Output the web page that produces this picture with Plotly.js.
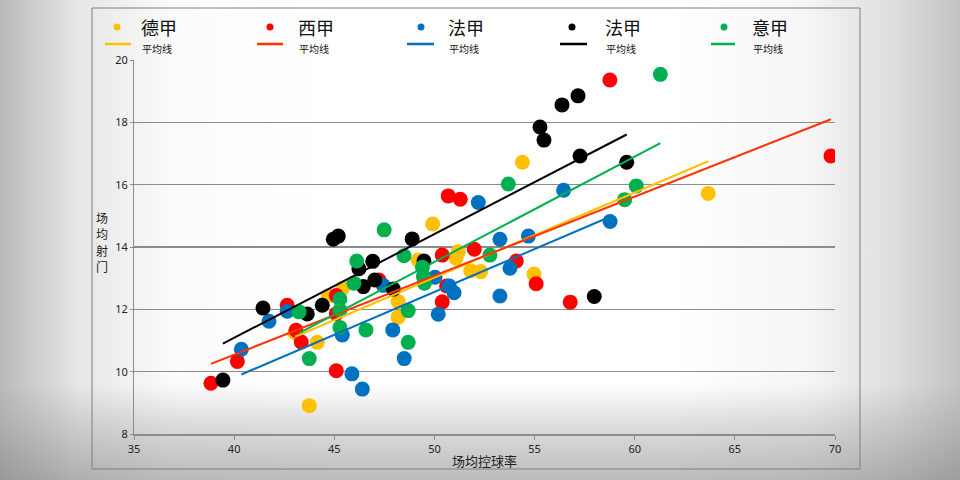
<!DOCTYPE html>
<html>
<head>
<meta charset="utf-8">
<script src="https://cdn.plot.ly/plotly-3.0.1.min.js"></script>
<style>
html,body{margin:0;padding:0;}
body{width:960px;height:480px;overflow:hidden;
background:
 linear-gradient(to bottom, rgba(255,255,255,0) 0%, rgba(255,255,255,0) 80%, rgba(150,150,150,0.3) 88%, rgba(120,120,120,0.5) 100%),
 linear-gradient(to right, #b9b9b9 0%, #e6e6e6 8%, #fbfbfb 18%, #ffffff 35%, #ffffff 70%, #f6f6f6 84%, #dedede 93%, #c2c2c2 100%);}
#chart{width:960px;height:480px;}
</style>
</head>
<body>
<div id="chart"></div>
<script>
// ---- data ----
const seriesNames = ['德甲', '西甲', '法甲', '法甲', '意甲'];
const trendName = '平均线';
const yTitleChars = ['场', '均', '射', '门'];
const xTickVals = [35, 40, 45, 50, 55, 60, 65, 70];
const yTickVals = [8, 10, 12, 14, 16, 18, 20];

// 德甲
const deX = [43.75, 44.15, 43.04, 44.70, 45.42, 48.19, 48.19, 49.19, 49.91, 51.19, 51.08, 51.81, 52.31, 54.97, 54.39, 63.67];
const deY = [8.91, 10.94, 11.25, 12.43, 12.68, 12.25, 11.75, 13.58, 14.74, 13.85, 13.64, 13.24, 13.21, 13.13, 16.72, 15.72];
// 西甲
const esX = [38.84, 40.16, 42.65, 43.09, 43.35, 45.10, 45.10, 45.10, 47.23, 50.39, 50.39, 50.61, 50.69, 51.29, 51.99, 54.09, 55.08, 56.78, 58.76, 69.80];
const esY = [9.63, 10.33, 12.13, 11.33, 10.95, 10.03, 12.44, 11.86, 12.94, 13.74, 12.24, 12.75, 15.64, 15.53, 13.93, 13.55, 12.82, 12.23, 19.36, 16.92];
// 法甲 (蓝)
const fr1X = [40.36, 41.74, 42.65, 45.40, 45.88, 46.40, 47.44, 47.92, 48.49, 50.03, 50.19, 50.74, 50.98, 52.19, 53.27, 53.27, 53.77, 54.69, 56.45, 58.77];
const fr1Y = [10.72, 11.62, 11.94, 11.18, 9.93, 9.44, 12.77, 11.34, 10.42, 13.03, 11.84, 12.75, 12.53, 15.43, 12.43, 14.25, 13.32, 14.35, 15.82, 14.82];
// 法甲 (黑)
const fr2X = [39.44, 41.44, 43.65, 44.40, 44.95, 45.20, 46.23, 46.45, 46.92, 47.02, 47.95, 48.89, 49.48, 55.27, 55.47, 56.37, 57.17, 57.27, 57.98, 59.60];
const fr2Y = [9.73, 12.04, 11.85, 12.13, 14.25, 14.35, 13.30, 12.73, 13.54, 12.94, 12.65, 14.26, 13.55, 17.85, 17.43, 18.56, 18.85, 16.92, 12.41, 16.72];
// 意甲
const itX = [43.24, 43.75, 45.28, 45.28, 45.28, 45.98, 46.12, 46.58, 47.49, 48.48, 48.69, 48.69, 49.40, 49.45, 49.50, 52.77, 53.69, 59.50, 60.08, 61.28];
const itY = [11.92, 10.42, 12.33, 11.98, 11.42, 12.84, 13.55, 11.34, 14.55, 13.72, 11.96, 10.94, 13.35, 13.05, 12.84, 13.74, 16.02, 15.52, 15.96, 19.54];

// 平均线 (trend line end points)
const deTrendX = [43.04, 63.67];  const deTrendY = [11.12, 16.75];
const esTrendX = [38.84, 69.80];  const esTrendY = [10.25, 18.10];
const fr1TrendX = [40.36, 58.77]; const fr1TrendY = [9.91, 14.97];
const fr2TrendX = [39.44, 59.60]; const fr2TrendY = [10.90, 17.61];
const itTrendX = [43.24, 61.28];  const itTrendY = [11.24, 17.33];

// ---- styles ----
const dotColors = ['#FFC000', '#FF0000', '#0070C0', '#000000', '#00B050'];
const lineColors = ['#FFC000', '#FF3300', '#0070C0', '#000000', '#00B050'];
const pts = [[deX, deY], [esX, esY], [fr1X, fr1Y], [fr2X, fr2Y], [itX, itY]];
const trends = [[deTrendX, deTrendY], [esTrendX, esTrendY], [fr1TrendX, fr1TrendY], [fr2TrendX, fr2TrendY], [itTrendX, itTrendY]];

const traces = [];
pts.forEach((p, i) => {
  traces.push({
    type: 'scatter', mode: 'markers', x: p[0], y: p[1], name: seriesNames[i],
    marker: {color: dotColors[i], size: 15, line: {width: 0}}, hoverinfo: 'x+y+name'
  });
});
trends.forEach((t, i) => {
  traces.push({
    type: 'scatter', mode: 'lines', x: t[0], y: t[1], name: seriesNames[i] + trendName,
    line: {color: lineColors[i], width: 2}
  });
});

// ---- plot geometry (pixels) for the hand-made legend ----
const L = 134, T = 60, W = 701, H = 374;
const px = v => (v - L) / W;
const py = v => (T + H - v) / H;

const cjk = '"Noto Sans CJK SC", "Noto Sans", sans-serif';
const legDotX = [117, 270, 421, 572, 724];
const legNameX = [139, 296, 446, 603, 750];
const legLineX0 = [105, 257, 407, 560, 711];
const legLineX1 = [131, 283, 434, 587, 735];

const annotations = [];
yTitleChars.forEach((c, k) => {
  annotations.push({
    xref: 'paper', yref: 'paper', x: px(102), y: py(217 + k * 16.5), xanchor: 'center', yanchor: 'middle',
    text: c, showarrow: false, borderpad: 0,
    font: {family: cjk, size: 12, color: '#222'}
  });
});
const shapes = [{
  type: 'rect', xref: 'paper', yref: 'paper',
  x0: px(92), x1: px(860), y0: py(469), y1: py(8),
  line: {color: '#7f7f7f', width: 1}, fillcolor: 'rgba(0,0,0,0)', layer: 'below'
}];
seriesNames.forEach((n, i) => {
  annotations.push({
    xref: 'paper', yref: 'paper', x: px(legNameX[i]), y: py(27), xanchor: 'left', yanchor: 'middle',
    text: n, showarrow: false, font: {family: cjk, size: 18, color: '#111'}
  });
  annotations.push({
    xref: 'paper', yref: 'paper', x: px(legNameX[i] + 1), y: py(48), xanchor: 'left', yanchor: 'middle',
    text: trendName, showarrow: false, font: {family: cjk, size: 10, color: '#111'}
  });
  shapes.push({
    type: 'circle', xref: 'paper', yref: 'paper', xsizemode: 'pixel', ysizemode: 'pixel',
    xanchor: px(legDotX[i]), yanchor: py(27), x0: -3.5, x1: 3.5, y0: -3.5, y1: 3.5,
    fillcolor: dotColors[i], line: {width: 0}
  });
  shapes.push({
    type: 'line', xref: 'paper', yref: 'paper',
    x0: px(legLineX0[i]), x1: px(legLineX1[i]), y0: py(44), y1: py(44),
    line: {color: lineColors[i], width: 2.5}
  });
});

const layout = {
  width: 960, height: 480, showlegend: false,
  margin: {l: L, r: 960 - L - W, t: T, b: 480 - T - H, autoexpand: false},
  paper_bgcolor: 'rgba(0,0,0,0)', plot_bgcolor: 'rgba(0,0,0,0)',
  font: {family: '"Noto Sans", sans-serif', size: 11, color: '#222'},
  xaxis: {
    range: [35, 70], tickvals: xTickVals, showgrid: false, zeroline: false,
    showline: true, linecolor: '#8c8c8c', linewidth: 1.5,
    ticks: 'outside', ticklen: 4, tickcolor: '#8c8c8c', tickwidth: 1,
    tickfont: {size: 11, color: '#222'}, fixedrange: true,
    title: {text: '场均控球率', font: {family: cjk, size: 13, color: '#222'}, standoff: 2}
  },
  yaxis: {
    range: [8, 20], tickvals: yTickVals, showgrid: true, gridcolor: '#8c8c8c', gridwidth: 1.5,
    zeroline: false, showline: true, linecolor: '#8c8c8c', linewidth: 1,
    ticks: 'outside', ticklen: 3, tickcolor: '#8c8c8c',
    tickfont: {size: 11, color: '#222'}, fixedrange: true
  },
  annotations: annotations,
  shapes: shapes
};

Plotly.newPlot('chart', traces, layout, {staticPlot: true, displayModeBar: false});
</script>
</body>
</html>
